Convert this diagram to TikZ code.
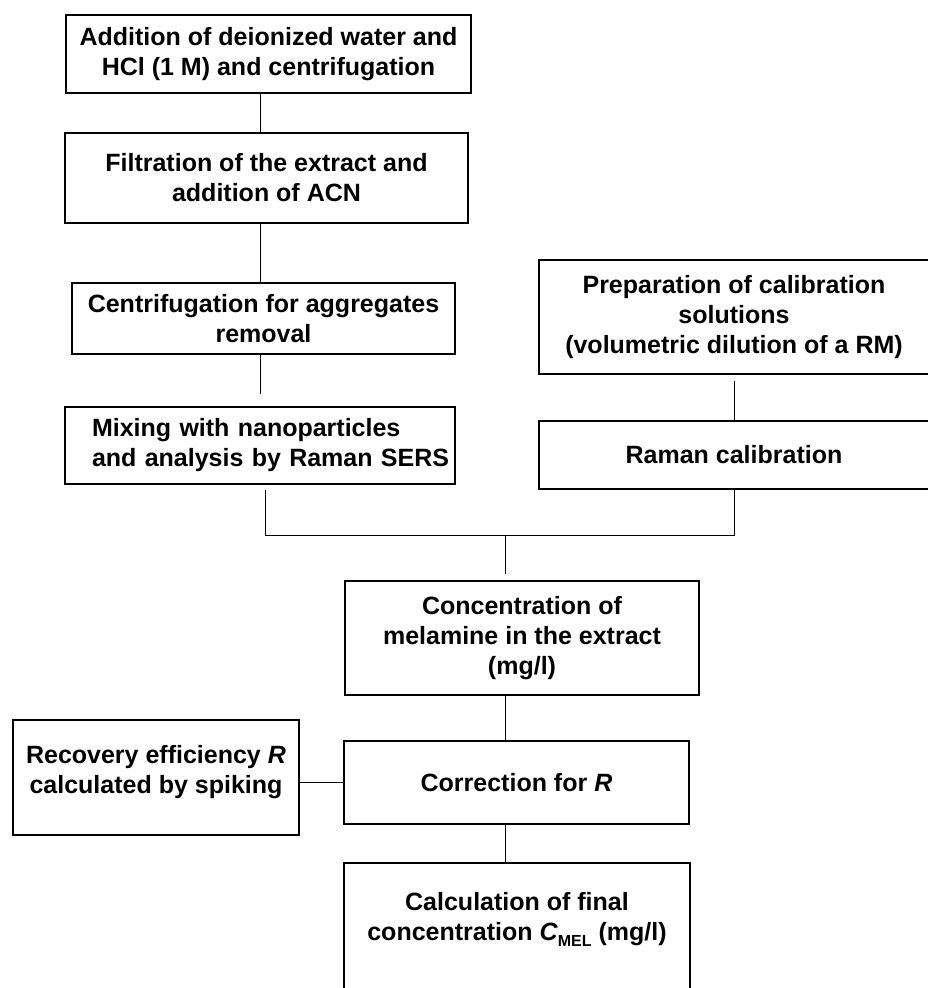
\documentclass[tikz,border=0pt]{standalone}
\usepackage{fontspec}
\setmainfont{Liberation Sans}
\usepackage{tikz}

\tikzset{
  stepbox/.style={draw, line width=1.2pt, align=center, inner sep=0pt,
    font=\fontsize{25}{30}\selectfont\bfseries},
  link/.style={line width=1pt}
}
\newcommand{\melsub}{\raisebox{-6pt}{\fontsize{16}{16}\selectfont MEL}}
\newcommand{\mixindent}{\hspace*{25pt}}

\begin{document}
\begin{tikzpicture}[x=1pt, y=-1pt]
\useasboundingbox (0,0) rectangle (927,988);
% left column
\node[stepbox, minimum width=405, minimum height=78] (addition) at (268.5,54) {Addition of deionized water and\\HCl (1 M) and centrifugation};
\node[stepbox, minimum width=403, minimum height=90] (filtration) at (266.5,178) {Filtration of the extract and\\addition of ACN};
\node[stepbox, minimum width=383, minimum height=71] (centrifuge) at (263.5,318.5) {Centrifugation for aggregates\\removal};
\node[stepbox, align=left, inner xsep=2, text width=386, minimum height=77] (mixing) at (260,445.5) {\mixindent Mixing with nanoparticles\\\mixindent and analysis by Raman SERS};
% right column
\node[stepbox, minimum width=390, minimum height=114] (preparation) at (734,317) {Preparation of calibration\\solutions\\(volumetric dilution of a RM)};
\node[stepbox, minimum width=390, minimum height=68] (calibration) at (734,455) {Raman calibration};
% result chain
\node[stepbox, minimum width=354, minimum height=114] (concentration) at (522,638) {Concentration of\\melamine in the extract\\(mg/l)};
\node[stepbox, minimum width=345, minimum height=83] (correction) at (516.5,782.5) {Correction for \textit{R}};
\node[stepbox, minimum width=286, minimum height=115, text depth=16] (recovery) at (156,777.5) {Recovery efficiency \textit{R}\\calculated by spiking};
\node[stepbox, minimum width=346, minimum height=137, text depth=31] (calculation) at (517,931.5) {Calculation of final\\concentration \textit{C}\melsub{} (mg/l)};

\coordinate (spine) at (260,0);
\coordinate (join) at (505,535);
\draw[link] (spine |- addition.south) -- (spine |- filtration.north);
\draw[link] (spine |- filtration.south) -- (spine |- centrifuge.north);
\draw[link] (spine |- centrifuge.south) -- ([yshift=12pt]spine |- mixing.north);
\draw[link] ([yshift=-6pt]preparation.south) -- (calibration.north);
\draw[link] ([xshift=5pt,yshift=-5pt]mixing.south) |- (join);
\draw[link] (calibration.south) |- (join);
\draw[link] (join) -- ([yshift=6pt]join |- concentration.north);
\draw[link] (join |- concentration.south) -- (join |- correction.north);
\draw[link] (join |- correction.south) -- (join |- calculation.north);
\draw[link] (recovery.east |- correction.west) -- (correction.west);
\end{tikzpicture}
\end{document}
